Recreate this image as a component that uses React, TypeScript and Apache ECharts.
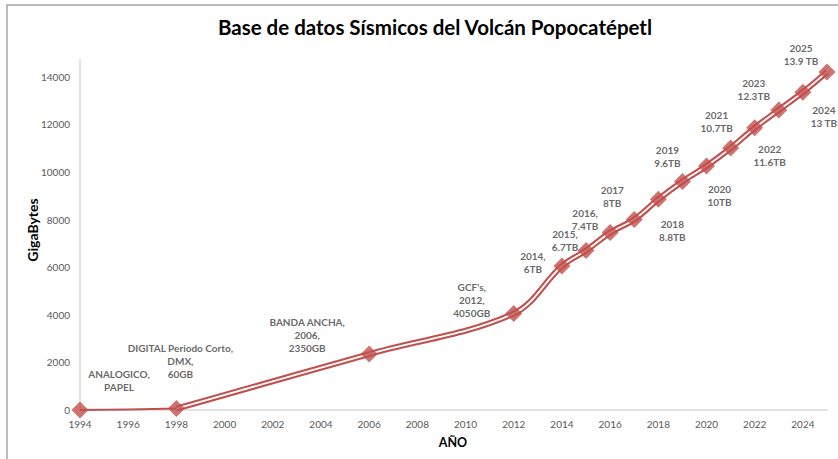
import React, { useEffect, useRef } from "react";
import * as echarts from "echarts";

const years = [1994, 1998, 2006, 2012, 2014, 2015, 2016, 2017, 2018, 2019, 2020, 2021, 2022, 2023, 2024, 2025];
const gigabytes = [0, 60, 2350, 4050, 6050, 6700, 7450, 8000, 8850, 9600, 10250, 11000, 11850, 12600, 13350, 14200];
const pointLabels = [
  "ANALOGICO,\nPAPEL",
  "DIGITAL Periodo Corto,\nDMX,\n60GB",
  "BANDA ANCHA,\n2006,\n2350GB",
  "GCF's,\n2012,\n4050GB",
  "2014,\n6TB",
  "2015,\n6.7TB",
  "2016,\n7.4TB",
  "2017\n8TB",
  "2018\n8.8TB",
  "2019\n9.6TB",
  "2020\n10TB",
  "2021\n10.7TB",
  "2022\n11.6TB",
  "2023\n12.3TB",
  "2024\n13 TB",
  "2025\n13.9 TB",
];
// layout: label offsets from each marker (px)
const labelOffsets: [number, number][] = [
  [39, -30], [4, -48], [-62, -19], [-42, -14], [-29, -3], [-21, -10], [-25, -13], [-22, -23],
  [14, 31], [-15, -25], [13, 30], [-14, -27], [15, 28], [-25, -21], [21, 24], [-26, -17],
];
const yTicks = [0, 2000, 4000, 6000, 8000, 10000, 12000, 14000];
const digitalStartYear = 1998;

const RED = "#c0504d";
const FONT = "Lato";
const W = 838;
const GRID_LEFT = 80;
const GRID_RIGHT = 11;

export default function App() {
  const ref = useRef<HTMLDivElement>(null);
  useEffect(() => {
    document.body.style.margin = "0";
    const chart = echarts.init(ref.current!, null, { renderer: "svg" });
    const all = years.map((y, i) => [y, gigabytes[i]]);
    const digital = all.filter((p) => p[0] >= digitalStartYear);
    const xMin = 1994;
    const xMax = 2025;
    const splitPx = GRID_LEFT + ((digitalStartYear - xMin) / (xMax - xMin)) * (W - GRID_LEFT - GRID_RIGHT);
    const f = splitPx / W;
    const T = "rgba(0,0,0,0)";
    const firstSegColor = new echarts.graphic.LinearGradient(
      0, 0, W, 0,
      [
        { offset: 0, color: RED },
        { offset: f, color: RED },
        { offset: f + 0.0001, color: T },
        { offset: 1, color: T },
      ],
      true
    );
    chart.setOption({
      animation: false,
      backgroundColor: "#ffffff",
      grid: { left: GRID_LEFT, right: GRID_RIGHT, top: 60, bottom: 49 },
      xAxis: {
        type: "value",
        min: xMin,
        max: xMax,
        interval: 2,
        axisLine: { show: true, lineStyle: { color: "#d9d9d9", width: 1.5 } },
        axisTick: { show: false },
        splitLine: { show: false },
        axisLabel: {
          color: "#595959",
          fontFamily: FONT,
          fontSize: 10,
          margin: 9,
          formatter: (v: number) => (v % 2 === 0 ? String(v) : ""),
        },
      },
      yAxis: {
        type: "value",
        min: 0,
        max: 14700,
        interval: 2000,
        axisLine: { show: true, lineStyle: { color: "#d9d9d9", width: 1.5 } },
        axisTick: { show: false },
        splitLine: { show: false },
        axisLabel: {
          color: "#595959",
          fontFamily: FONT,
          fontSize: 10,
          margin: 10,
          formatter: (v: number) => (yTicks.includes(v) ? String(v) : ""),
        },
      },
      graphic: [
        {
          type: "rect",
          shape: { x: 7, y: 5, width: 900, height: 600 },
          style: { fill: "none", stroke: "#a6a6a6", lineWidth: 1.5 },
          silent: true,
        },
        {
          type: "text",
          x: 435,
          y: 27,
          style: {
            text: "Base de datos Sísmicos del Volcán Popocatépetl",
            fontFamily: FONT,
            fontWeight: "bold",
            fontSize: 20.5,
            fill: "#000000",
            align: "center",
            verticalAlign: "middle",
          },
        },
        {
          type: "text",
          x: 32,
          y: 230,
          rotation: Math.PI / 2,
          style: {
            text: "GigaBytes",
            fontFamily: FONT,
            fontWeight: "bold",
            fontSize: 14,
            fill: "#000000",
            align: "center",
            verticalAlign: "middle",
          },
        },
        {
          type: "text",
          x: 453,
          y: 442,
          style: {
            text: "AÑO",
            fontFamily: FONT,
            fontWeight: "bold",
            fontSize: 12.5,
            fill: "#000000",
            align: "center",
            verticalAlign: "middle",
          },
        },
      ],
      series: [
        {
          type: "line",
          data: all,
          smooth: 0.5,
          clip: false,
          symbol: "none",
          lineStyle: { color: firstSegColor, width: 2 },
          z: 1,
        },
        {
          type: "line",
          data: digital,
          smooth: 0.35,
          clip: false,
          symbol: "none",
          lineStyle: { color: RED, width: 6 },
          z: 2,
        },
        {
          type: "line",
          data: digital,
          smooth: 0.35,
          clip: false,
          symbol: "none",
          lineStyle: { color: "#ffffff", width: 1.8 },
          z: 3,
        },
        {
          type: "scatter",
          clip: false,
          symbol: "diamond",
          symbolSize: 17,
          itemStyle: { color: RED },
          z: 4,
          data: all.map((p, i) => ({
            value: p,
            label: {
              show: true,
              position: "inside",
              offset: labelOffsets[i],
              formatter: pointLabels[i],
              fontFamily: FONT,
              fontWeight: "bold",
              fontSize: 10,
              lineHeight: 13,
              color: "#404040",
              align: "center",
              verticalAlign: "middle",
            },
          })),
        },
      ],
    });
    return () => chart.dispose();
  }, []);
  return <div ref={ref} style={{ width: 838, height: 459 }} />;
}
